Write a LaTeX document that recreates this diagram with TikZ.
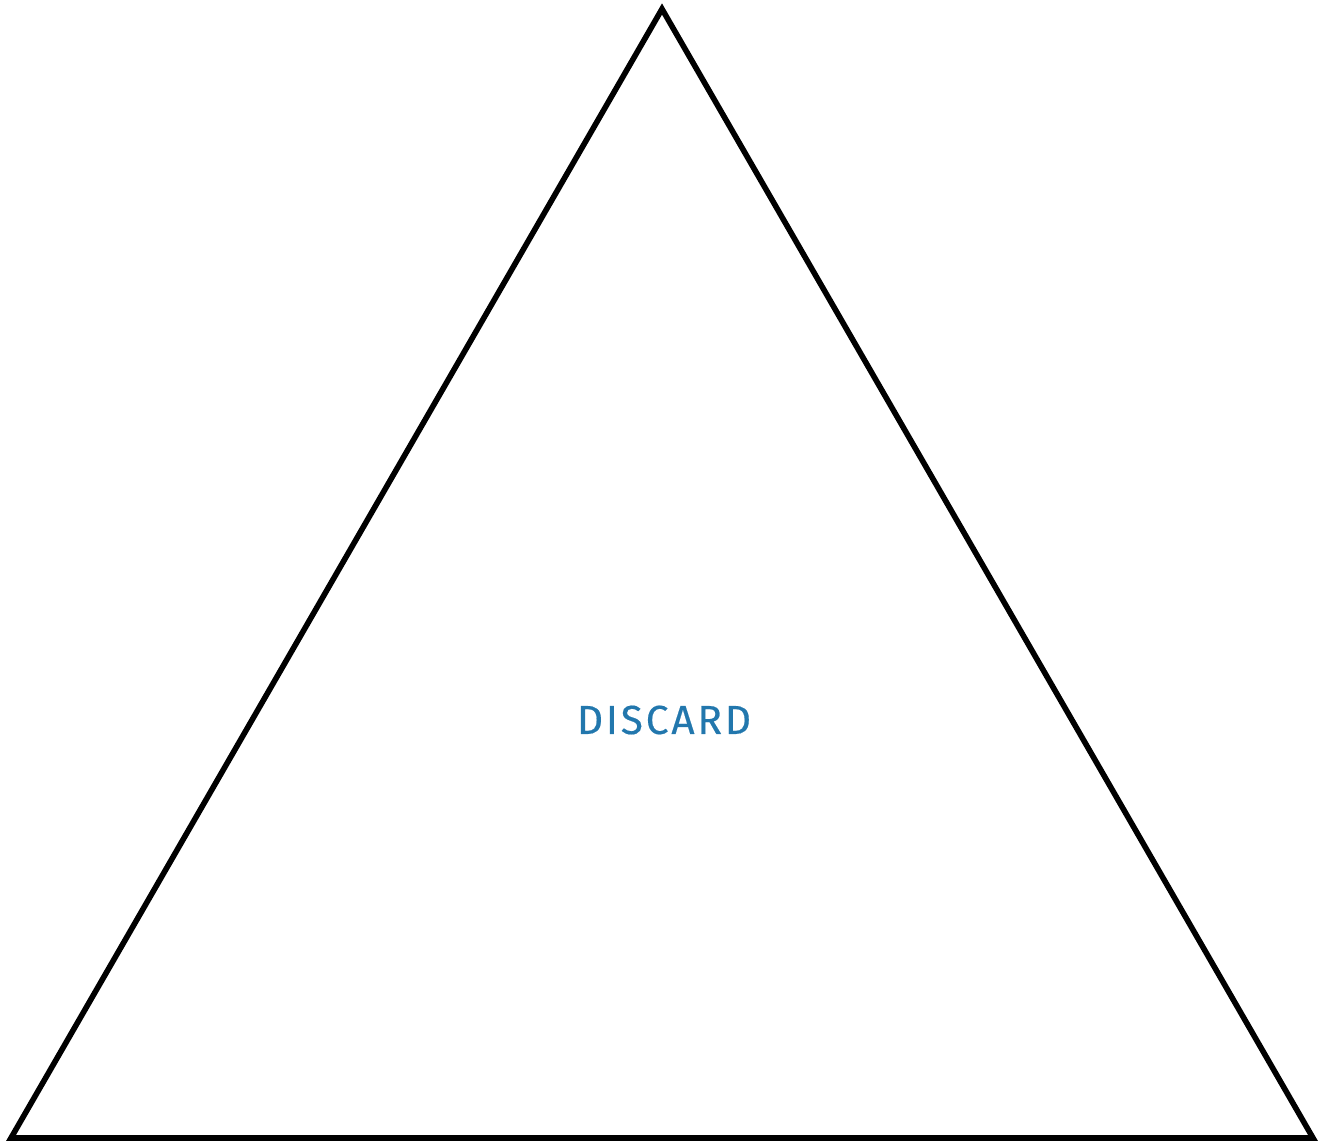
\documentclass[tikz,border=0pt]{standalone}
\usepackage{fontspec}
\setmainfont{Fira Sans}
\definecolor{discardBlue}{HTML}{2277AD}
\begin{document}
\begin{tikzpicture}
% triangle sketch, pixel units
\def\pxsz{0.5pt}
\providecommand{\triLineWidth}{2.8pt}
\begin{scope}[x=\pxsz, y=-\pxsz, line join=miter]
  % Page frame
  \useasboundingbox (0,0) rectangle (1328,1143);
  % Outline
  \draw[line width=\triLineWidth] (662,9) -- (11,1138) -- (1313,1138) -- cycle;
  % Label
  \node[text=discardBlue, font=\fontsize{20.3pt}{24pt}\selectfont\addfontfeature{LetterSpace=7,FakeBold=0.4}] (discard) at (664,720) {DISCARD};
\end{scope}
\end{tikzpicture}
\end{document}
